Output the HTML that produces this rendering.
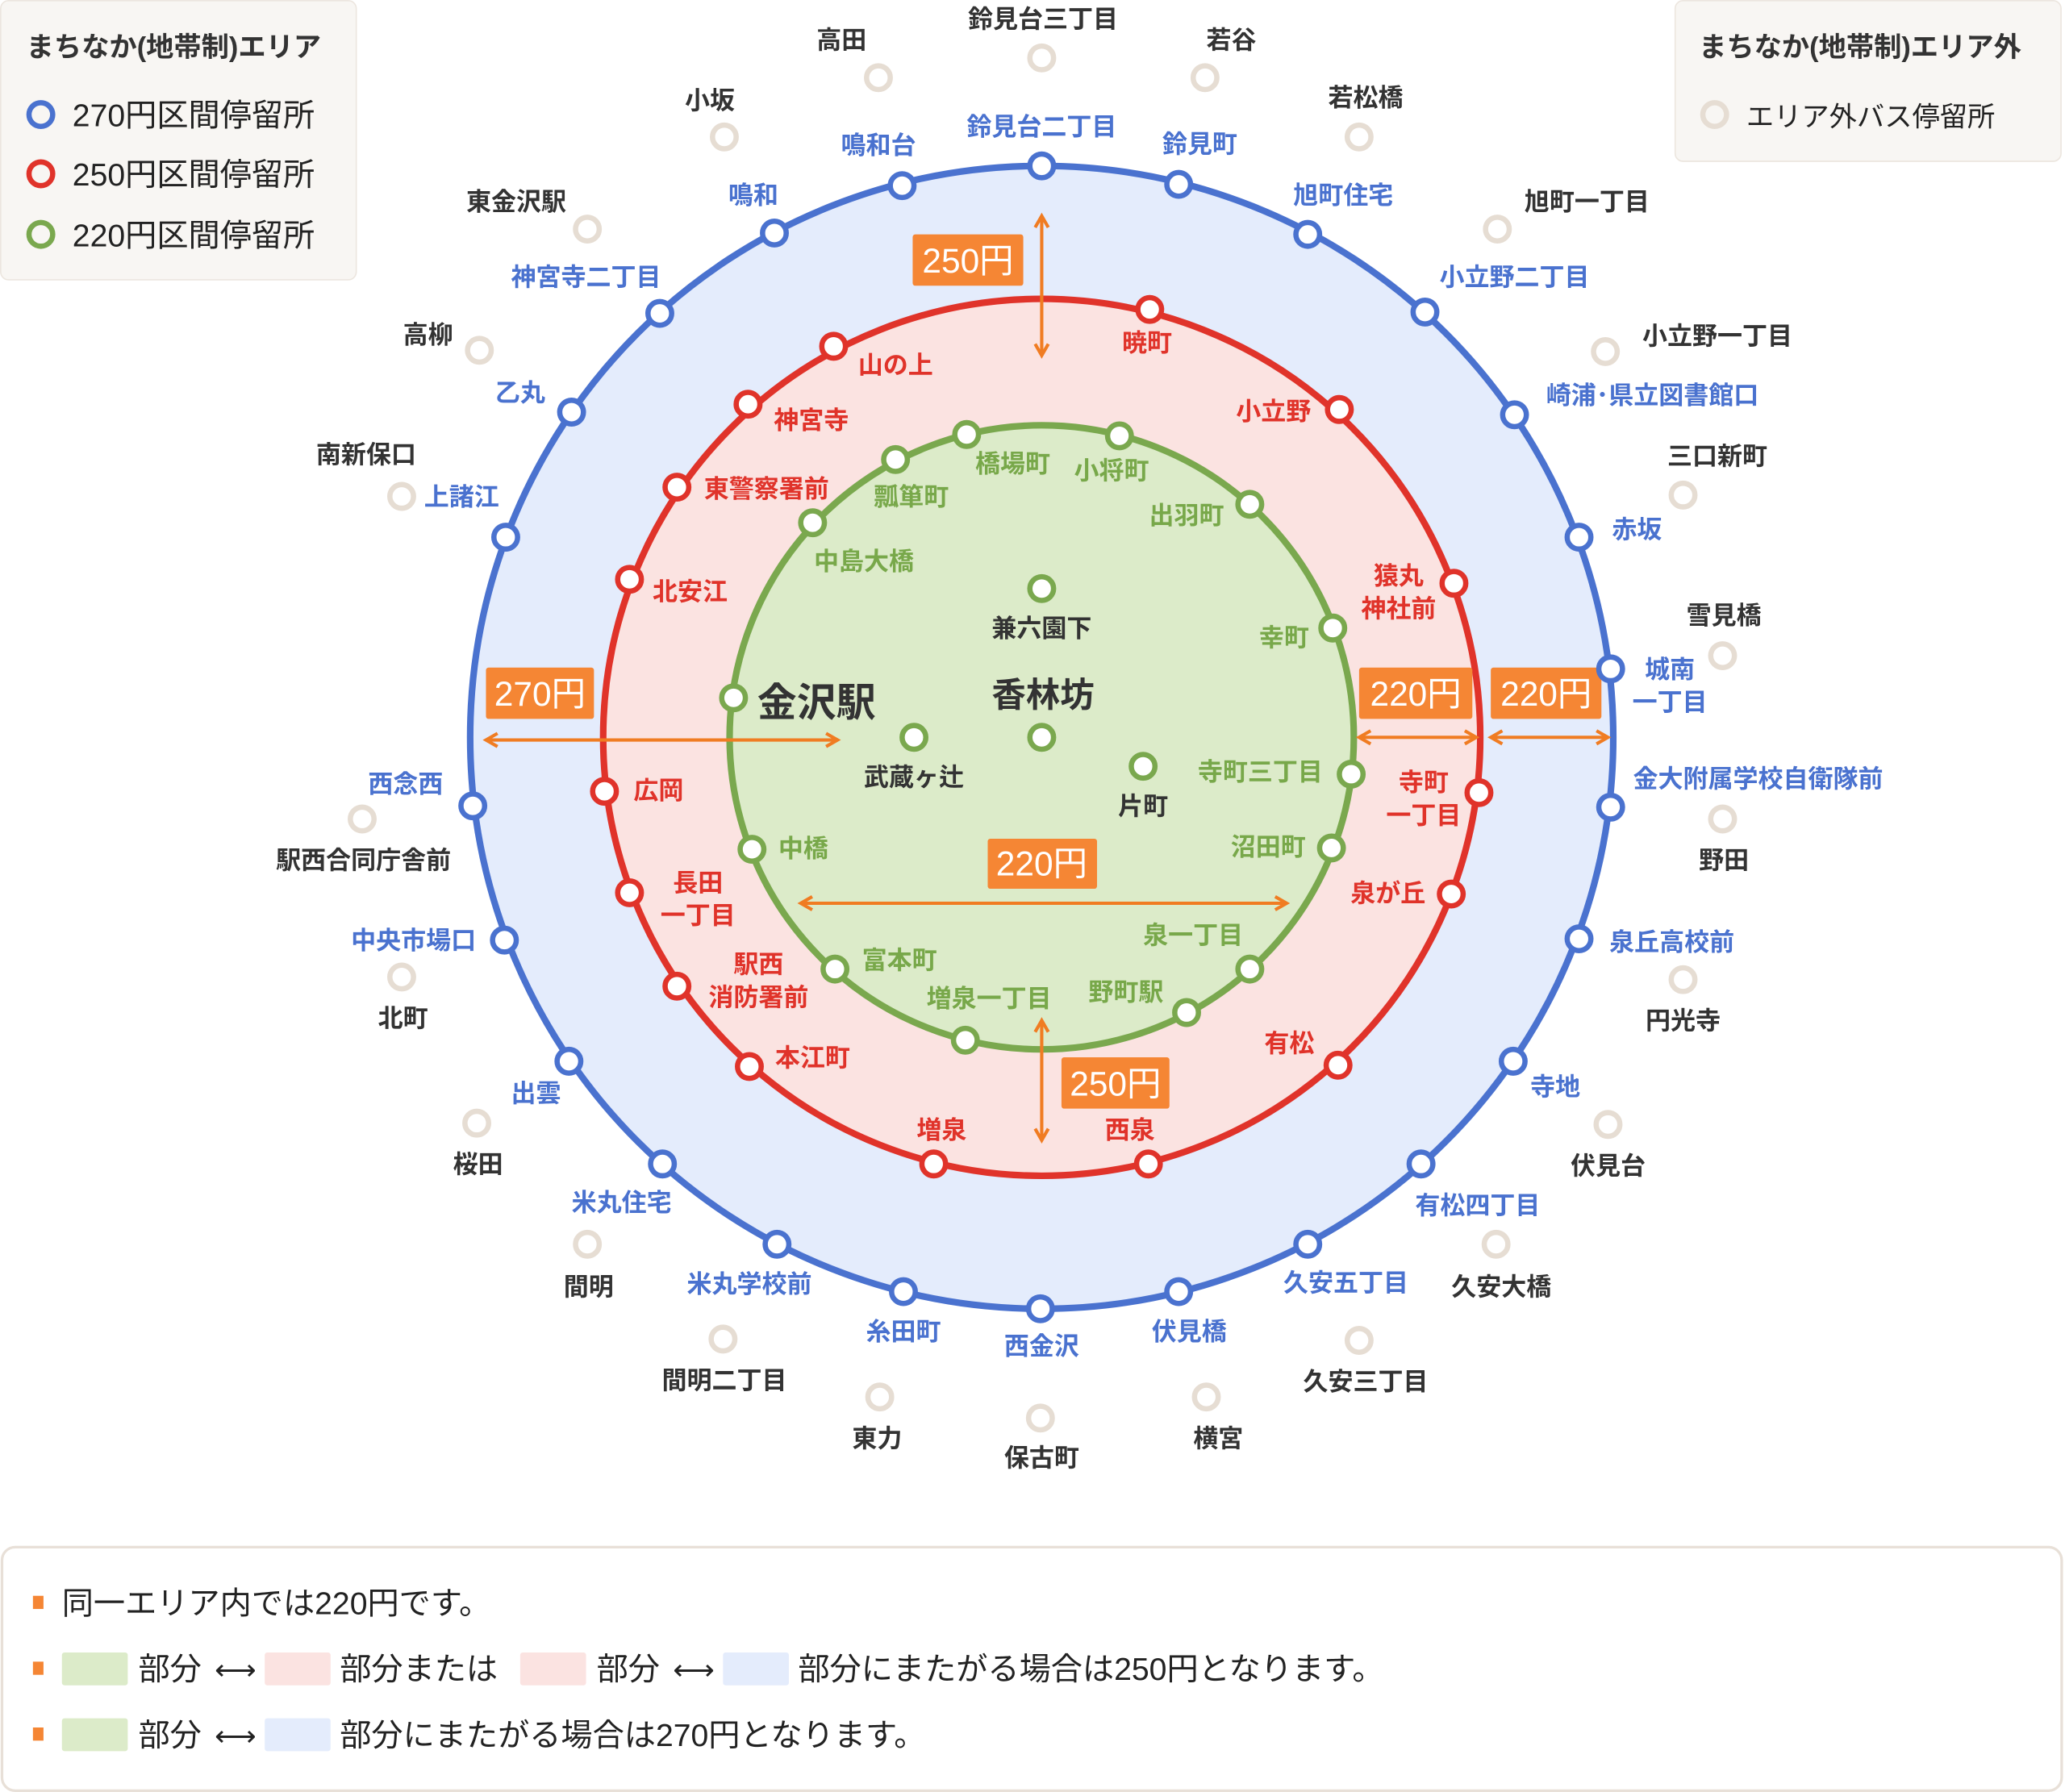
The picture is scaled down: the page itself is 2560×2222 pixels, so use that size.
<!DOCTYPE html>
<html><head><meta charset="utf-8"><style>
html,body{margin:0;padding:0;background:#fff;}
svg{display:block;}
text{font-family:"Liberation Sans","Noto Sans CJK JP",sans-serif;font-weight:bold;}
.b{fill:#4a72cf;font-size:19px}
.r{fill:#e0332a;font-size:19px}
.g{fill:#78a84a;font-size:19px}
.k{fill:#333;font-size:19px}
.bn{fill:#fff;stroke:#4a72cf;stroke-width:4}
.rn{fill:#fff;stroke:#e0332a;stroke-width:4}
.gn{fill:#fff;stroke:#7aa84e;stroke-width:4}
.xn{fill:#fff;stroke:#e6ddd3;stroke-width:4}
.badge{fill:#f58634}
.bt{fill:#fff;font-size:26px;font-weight:normal}
.ar{stroke:#f07c22;stroke-width:2.5;fill:none}
.lg, .lg text{fill:#222;font-size:24px;font-weight:normal}
.lg .arw{font-size:22px}
</style></head><body>
<svg width="2560" height="2222" viewBox="0 0 1568 1361" xmlns="http://www.w3.org/2000/svg">
<defs>
<marker id="ah" viewBox="0 0 10 10" refX="8" refY="5" markerWidth="5" markerHeight="5" orient="auto-start-reverse"><path d="M1,1 L8,5 L1,9" fill="none" stroke="#f07c22" stroke-width="2"/></marker>
</defs>
<circle cx="791" cy="560" r="434" fill="#e4ecfc" stroke="#4a72cf" stroke-width="5"/>
<circle cx="791" cy="560" r="333" fill="#fbe3e1" stroke="#e0332a" stroke-width="5"/>
<circle cx="791" cy="560" r="237" fill="#dcebc9" stroke="#7aa84e" stroke-width="5"/>

<rect x="0.5" y="0.5" width="270" height="212" rx="6" fill="#f8f6f3" stroke="#ece6df"/>
<text x="20" y="43" class="k" style="font-size:21px">まちなか(地帯制)エリア</text>
<circle cx="31" cy="87" r="9" fill="none" stroke="#4a72cf" stroke-width="4"/>
<text x="55" y="96" class="lg">270円区間停留所</text>
<circle cx="31" cy="132" r="9" fill="none" stroke="#e0332a" stroke-width="4"/>
<text x="55" y="141" class="lg">250円区間停留所</text>
<circle cx="31" cy="178" r="9" fill="none" stroke="#7aa84e" stroke-width="4"/>
<text x="55" y="187" class="lg">220円区間停留所</text>

<rect x="1272" y="0.5" width="293" height="122" rx="6" fill="#f8f6f3" stroke="#ece6df"/>
<text x="1290" y="43" class="k" style="font-size:21px">まちなか(地帯制)エリア外</text>
<circle cx="1302" cy="87" r="9" fill="none" stroke="#e6ddd3" stroke-width="4"/>
<text x="1326" y="96" class="lg" style="font-size:21px">エリア外バス停留所</text>

<line x1="791" y1="164" x2="791" y2="270" class="ar" marker-start="url(#ah)" marker-end="url(#ah)"/>
<line x1="369" y1="562" x2="636" y2="562" class="ar" marker-start="url(#ah)" marker-end="url(#ah)"/>
<line x1="1032" y1="560" x2="1121" y2="560" class="ar" marker-start="url(#ah)" marker-end="url(#ah)"/>
<line x1="1132" y1="560" x2="1221" y2="560" class="ar" marker-start="url(#ah)" marker-end="url(#ah)"/>
<line x1="608" y1="686" x2="977" y2="686" class="ar" marker-start="url(#ah)" marker-end="url(#ah)"/>
<line x1="791" y1="775" x2="791" y2="866" class="ar" marker-start="url(#ah)" marker-end="url(#ah)"/>

<rect x="693" y="178" width="84" height="39" class="badge" rx="2"/><text x="735" y="207" class="bt" text-anchor="middle">250円</text>
<rect x="369" y="507" width="82" height="39" class="badge" rx="2"/><text x="410" y="536" class="bt" text-anchor="middle">270円</text>
<rect x="1032" y="507" width="86" height="39" class="badge" rx="2"/><text x="1075" y="536" class="bt" text-anchor="middle">220円</text>
<rect x="1132" y="507" width="84" height="39" class="badge" rx="2"/><text x="1174" y="536" class="bt" text-anchor="middle">220円</text>
<rect x="750" y="637" width="83" height="38" class="badge" rx="2"/><text x="791" y="665" class="bt" text-anchor="middle">220円</text>
<rect x="806" y="803" width="82" height="39" class="badge" rx="2"/><text x="847" y="832" class="bt" text-anchor="middle">250円</text>

<g class="bn">
<circle cx="685" cy="141" r="9"/><circle cx="791" cy="126" r="9"/><circle cx="895" cy="140" r="9"/>
<circle cx="993" cy="178" r="9"/><circle cx="1082" cy="237" r="9"/><circle cx="1150" cy="315" r="9"/>
<circle cx="1199" cy="408" r="9"/><circle cx="1223" cy="508" r="9"/><circle cx="1223" cy="613" r="9"/>
<circle cx="1199" cy="713" r="9"/><circle cx="1149" cy="806" r="9"/><circle cx="1079" cy="884" r="9"/>
<circle cx="993" cy="945" r="9"/><circle cx="895" cy="981" r="9"/><circle cx="790" cy="994" r="9"/>
<circle cx="686" cy="981" r="9"/><circle cx="590" cy="945" r="9"/><circle cx="503" cy="884" r="9"/>
<circle cx="432" cy="806" r="9"/><circle cx="383" cy="714" r="9"/><circle cx="359" cy="612" r="9"/>
<circle cx="384" cy="408" r="9"/><circle cx="434" cy="313" r="9"/><circle cx="501" cy="238" r="9"/>
<circle cx="588" cy="177" r="9"/>
</g>
<g class="b">
<text x="667" y="117" text-anchor="middle">鳴和台</text>
<text x="791" y="103" text-anchor="middle">鈴見台二丁目</text>
<text x="911" y="116" text-anchor="middle">鈴見町</text>
<text x="1020" y="155" text-anchor="middle">旭町住宅</text>
<text x="1150" y="217" text-anchor="middle">小立野二丁目</text>
<text x="1174" y="307">崎浦･県立図書館口</text>
<text x="1224" y="409">赤坂</text>
<text x="1268" y="515" text-anchor="middle">城南</text>
<text x="1268" y="540" text-anchor="middle">一丁目</text>
<text x="1240" y="598">金大附属学校自衛隊前</text>
<text x="1222" y="722">泉丘高校前</text>
<text x="1162" y="832">寺地</text>
<text x="1122" y="922" text-anchor="middle">有松四丁目</text>
<text x="1022" y="981" text-anchor="middle">久安五丁目</text>
<text x="903" y="1018" text-anchor="middle">伏見橋</text>
<text x="791" y="1029" text-anchor="middle">西金沢</text>
<text x="686" y="1018" text-anchor="middle">糸田町</text>
<text x="569" y="982" text-anchor="middle">米丸学校前</text>
<text x="472" y="920" text-anchor="middle">米丸住宅</text>
<text x="407" y="837" text-anchor="middle">出雲</text>
<text x="314" y="721" text-anchor="middle">中央市場口</text>
<text x="308" y="602" text-anchor="middle">西念西</text>
<text x="322" y="384">上諸江</text>
<text x="395" y="305" text-anchor="middle">乙丸</text>
<text x="445" y="217" text-anchor="middle">神宮寺二丁目</text>
<text x="572" y="155" text-anchor="middle">鳴和</text>
</g>

<g class="rn">
<circle cx="873" cy="235" r="9"/><circle cx="1017" cy="311" r="9"/><circle cx="1104" cy="443" r="9"/>
<circle cx="1123" cy="602" r="9"/><circle cx="1102" cy="679" r="9"/><circle cx="1016" cy="809" r="9"/>
<circle cx="872" cy="884" r="9"/><circle cx="709" cy="884" r="9"/><circle cx="569" cy="810" r="9"/>
<circle cx="514" cy="749" r="9"/><circle cx="478" cy="678" r="9"/><circle cx="459" cy="601" r="9"/>
<circle cx="478" cy="440" r="9"/><circle cx="514" cy="370" r="9"/><circle cx="568" cy="307" r="9"/>
<circle cx="633" cy="263" r="9"/>
</g>
<g class="r">
<text x="871" y="267" text-anchor="middle">暁町</text>
<text x="967" y="319" text-anchor="middle">小立野</text>
<text x="1062" y="444" text-anchor="middle">猿丸</text>
<text x="1062" y="469" text-anchor="middle">神社前</text>
<text x="1081" y="601" text-anchor="middle">寺町</text>
<text x="1081" y="626" text-anchor="middle">一丁目</text>
<text x="1054" y="685" text-anchor="middle">泉が丘</text>
<text x="979" y="799" text-anchor="middle">有松</text>
<text x="858" y="865" text-anchor="middle">西泉</text>
<text x="715" y="865" text-anchor="middle">増泉</text>
<text x="617" y="810" text-anchor="middle">本江町</text>
<text x="576" y="739" text-anchor="middle">駅西</text>
<text x="576" y="764" text-anchor="middle">消防署前</text>
<text x="530" y="677" text-anchor="middle">長田</text>
<text x="530" y="702" text-anchor="middle">一丁目</text>
<text x="500" y="607" text-anchor="middle">広岡</text>
<text x="524" y="456" text-anchor="middle">北安江</text>
<text x="582" y="378" text-anchor="middle">東警察署前</text>
<text x="616" y="326" text-anchor="middle">神宮寺</text>
<text x="680" y="284" text-anchor="middle">山の上</text>
</g>

<g class="gn">
<circle cx="734" cy="330" r="9"/><circle cx="850" cy="331" r="9"/><circle cx="949" cy="383" r="9"/>
<circle cx="1012" cy="477" r="9"/><circle cx="1026" cy="588" r="9"/><circle cx="1011" cy="644" r="9"/>
<circle cx="949" cy="736" r="9"/><circle cx="901" cy="769" r="9"/><circle cx="733" cy="790" r="9"/>
<circle cx="634" cy="736" r="9"/><circle cx="571" cy="645" r="9"/><circle cx="557" cy="530" r="9"/>
<circle cx="617" cy="397" r="9"/><circle cx="680" cy="349" r="9"/>
<circle cx="791" cy="447" r="9"/><circle cx="694" cy="560" r="9"/><circle cx="791" cy="560" r="9"/>
<circle cx="868" cy="582" r="9"/>
</g>
<g class="g">
<text x="769" y="359" text-anchor="middle">橋場町</text>
<text x="844" y="364" text-anchor="middle">小将町</text>
<text x="901" y="398" text-anchor="middle">出羽町</text>
<text x="975" y="491" text-anchor="middle">幸町</text>
<text x="957" y="593" text-anchor="middle">寺町三丁目</text>
<text x="963" y="650" text-anchor="middle">沼田町</text>
<text x="906" y="717" text-anchor="middle">泉一丁目</text>
<text x="855" y="760" text-anchor="middle">野町駅</text>
<text x="751" y="765" text-anchor="middle">増泉一丁目</text>
<text x="683" y="736" text-anchor="middle">富本町</text>
<text x="610" y="651" text-anchor="middle">中橋</text>
<text x="656" y="433" text-anchor="middle">中島大橋</text>
<text x="692" y="384" text-anchor="middle">瓢箪町</text>
</g>
<g class="k">
<text x="791" y="484" text-anchor="middle">兼六園下</text>
<text x="694" y="597" text-anchor="middle">武蔵ヶ辻</text>
<text x="868" y="619" text-anchor="middle">片町</text>
<text x="575" y="544" style="font-size:30px">金沢駅</text>
<text x="792" y="537" text-anchor="middle" style="font-size:26px">香林坊</text>
</g>

<g class="xn">
<circle cx="667" cy="59" r="9"/><circle cx="791" cy="44" r="9"/><circle cx="915" cy="59" r="9"/>
<circle cx="1032" cy="104" r="9"/><circle cx="1137" cy="174" r="9"/><circle cx="1219" cy="267" r="9"/>
<circle cx="1278" cy="376" r="9"/><circle cx="1308" cy="498" r="9"/><circle cx="1308" cy="622" r="9"/>
<circle cx="1278" cy="744" r="9"/><circle cx="1221" cy="854" r="9"/><circle cx="1136" cy="945" r="9"/>
<circle cx="1032" cy="1018" r="9"/><circle cx="916" cy="1061" r="9"/><circle cx="790" cy="1077" r="9"/>
<circle cx="668" cy="1061" r="9"/><circle cx="549" cy="1017" r="9"/><circle cx="446" cy="945" r="9"/>
<circle cx="362" cy="853" r="9"/><circle cx="305" cy="742" r="9"/><circle cx="275" cy="622" r="9"/>
<circle cx="305" cy="377" r="9"/><circle cx="364" cy="266" r="9"/><circle cx="446" cy="174" r="9"/>
<circle cx="550" cy="104" r="9"/>
</g>
<g class="k">
<text x="639" y="37" text-anchor="middle">高田</text>
<text x="792" y="21" text-anchor="middle">鈴見台三丁目</text>
<text x="935" y="37" text-anchor="middle">若谷</text>
<text x="1037" y="81" text-anchor="middle">若松橋</text>
<text x="1205" y="160" text-anchor="middle">旭町一丁目</text>
<text x="1304" y="262" text-anchor="middle">小立野一丁目</text>
<text x="1304" y="353" text-anchor="middle">三口新町</text>
<text x="1309" y="474" text-anchor="middle">雪見橋</text>
<text x="1309" y="660" text-anchor="middle">野田</text>
<text x="1278" y="782" text-anchor="middle">円光寺</text>
<text x="1221" y="892" text-anchor="middle">伏見台</text>
<text x="1140" y="984" text-anchor="middle">久安大橋</text>
<text x="1037" y="1056" text-anchor="middle">久安三丁目</text>
<text x="925" y="1099" text-anchor="middle">横宮</text>
<text x="791" y="1114" text-anchor="middle">保古町</text>
<text x="666" y="1099" text-anchor="middle">東力</text>
<text x="550" y="1055" text-anchor="middle">間明二丁目</text>
<text x="447" y="984" text-anchor="middle">間明</text>
<text x="363" y="891" text-anchor="middle">桜田</text>
<text x="306" y="780" text-anchor="middle">北町</text>
<text x="276" y="660" text-anchor="middle">駅西合同庁舎前</text>
<text x="278" y="352" text-anchor="middle">南新保口</text>
<text x="325" y="261" text-anchor="middle">高柳</text>
<text x="392" y="160" text-anchor="middle">東金沢駅</text>
<text x="539" y="83" text-anchor="middle">小坂</text>
</g>

<rect x="1.5" y="1175" width="1564" height="185" rx="10" fill="#fff" stroke="#e8e0d8" stroke-width="2"/>
<g class="lg">
<rect x="25" y="1212" width="8" height="10" fill="#f58634"/>
<text x="47" y="1226">同一エリア内では220円です。</text>
<rect x="25" y="1262" width="8" height="10" fill="#f58634"/>
<rect x="47" y="1255" width="50" height="25" fill="#dcebc9" rx="2"/>
<text x="105" y="1276">部分</text><text x="163" y="1276" class="arw">⟷</text>
<rect x="201" y="1255" width="50" height="25" fill="#fbe3e1" rx="2"/>
<text x="258" y="1276">部分または</text>
<rect x="395" y="1255" width="50" height="25" fill="#fbe3e1" rx="2"/>
<text x="453" y="1276">部分</text><text x="511" y="1276" class="arw">⟷</text>
<rect x="549" y="1255" width="50" height="25" fill="#e4ecfc" rx="2"/>
<text x="606" y="1276">部分にまたがる場合は250円となります。</text>
<rect x="25" y="1312" width="8" height="10" fill="#f58634"/>
<rect x="47" y="1305" width="50" height="25" fill="#dcebc9" rx="2"/>
<text x="105" y="1326">部分</text><text x="163" y="1326" class="arw">⟷</text>
<rect x="201" y="1305" width="50" height="25" fill="#e4ecfc" rx="2"/>
<text x="258" y="1326">部分にまたがる場合は270円となります。</text>
</g>
</svg>
</body></html>
